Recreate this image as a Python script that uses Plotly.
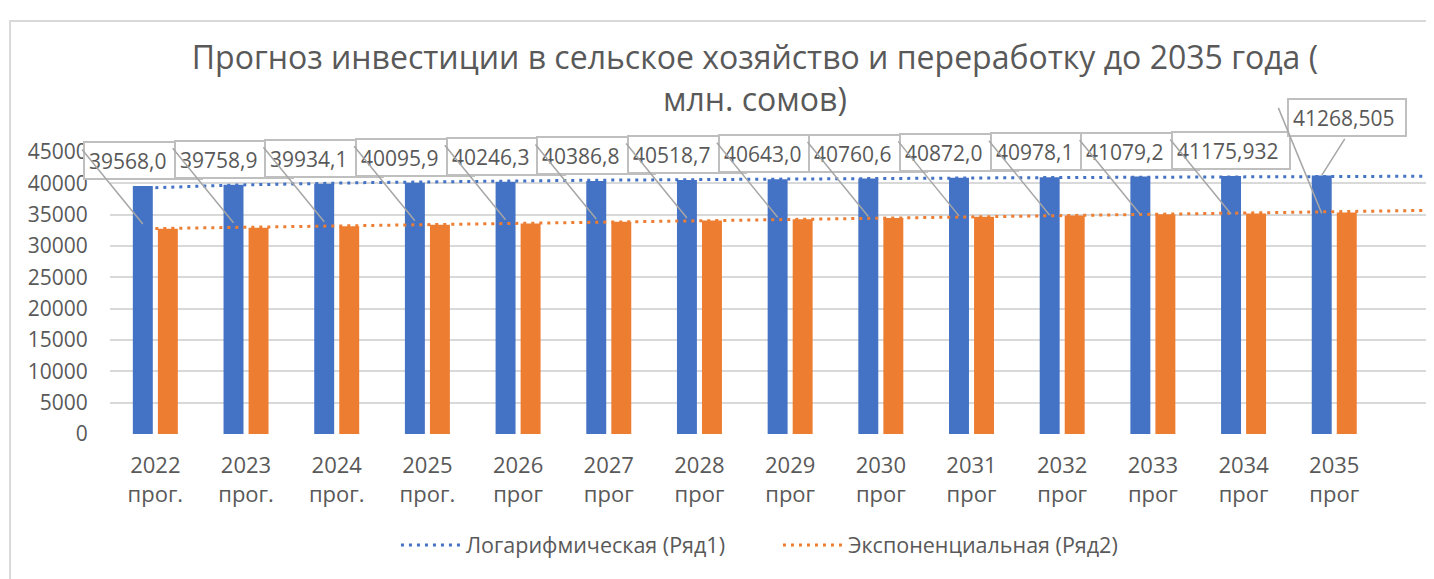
import numpy as np
import plotly.graph_objects as go

# ---------------- data ----------------
years = ["2022", "2023", "2024", "2025", "2026", "2027", "2028",
         "2029", "2030", "2031", "2032", "2033", "2034", "2035"]
suffixes = ["прог.", "прог.", "прог.", "прог.", "прог", "прог", "прог",
            "прог", "прог", "прог", "прог", "прог", "прог", "прог"]
blue_values = [39568.0, 39758.9, 39934.1, 40095.9, 40246.3, 40386.8, 40518.7,
               40643.0, 40760.6, 40872.0, 40978.1, 41079.2, 41175.932, 41268.505]
blue_labels = ["39568,0", "39758,9", "39934,1", "40095,9", "40246,3", "40386,8", "40518,7",
               "40643,0", "40760,6", "40872,0", "40978,1", "41079,2", "41175,932", "41268,505"]
orange_values = [32750, 32900, 33150, 33400, 33600, 33850, 34050,
                 34250, 34450, 34650, 34850, 35050, 35200, 35350]
y_tick_values = [0, 5000, 10000, 15000, 20000, 25000, 30000, 35000, 40000, 45000]
trend_names = ["Логарифмическая (Ряд1)", "Экспоненциальная (Ряд2)"]
title_text = "Прогноз инвестиции в сельское хозяйство и переработку до 2035 года (<br>млн. сомов)"

BLUE = "#4472C4"
ORANGE = "#ED7D31"
GREY_TXT = "#595959"
FONT = "Open Sans"

xs = np.arange(len(years))
ticktext = [f"{y}<br>{s}" for y, s in zip(years, suffixes)]

# trendlines fitted (as the spreadsheet does) from the series, 1 period forward
t_obs = np.arange(1, len(years) + 1)
a_log, b_log = np.polyfit(np.log(t_obs), np.array(blue_values), 1)
k_exp, c_exp = np.polyfit(t_obs, np.log(np.array(orange_values, dtype=float)), 1)
t_line = np.linspace(1, len(years) + 1, 120)
blue_trend = a_log * np.log(t_line) + b_log
orange_trend = np.exp(c_exp + k_exp * t_line)

fig = go.Figure()
fig.add_trace(go.Bar(x=xs, y=blue_values, width=0.22, offset=-0.248,
                     marker=dict(color=BLUE, line=dict(width=0)), showlegend=False,
                     name="Ряд1"))
fig.add_trace(go.Bar(x=xs, y=orange_values, width=0.22, offset=0.028,
                     marker=dict(color=ORANGE, line=dict(width=0)), showlegend=False,
                     name="Ряд2"))
fig.add_trace(go.Scatter(x=t_line - 1, y=blue_trend, mode="lines", name=trend_names[0],
                         line=dict(color=BLUE, width=3, dash="3px,5px")))
fig.add_trace(go.Scatter(x=t_line - 1, y=orange_trend, mode="lines", name=trend_names[1],
                         line=dict(color=ORANGE, width=3, dash="3px,5px")))

annotations = []
bar_center = xs - 0.138
n = len(years)
# label boxes
for i in range(n):
    last = (i == n - 1)
    annotations.append(dict(
        x=bar_center[i], y=blue_values[i], xref="x", yref="y",
        text=blue_labels[i], showarrow=False, xanchor="center", yanchor="middle",
        xshift=25.5 if last else 0, yshift=58 if last else 25.5,
        width=108, height=27, align="left", valign="middle",
        bgcolor="white", bordercolor="#bfbfbf", borderwidth=2, borderpad=4,
        font=dict(family=FONT, size=21, color=GREY_TXT)))
# leader lines
for i in range(n):
    last = (i == n - 1)
    annotations.append(dict(
        x=bar_center[i], y=blue_values[i], xref="x", yref="y", text="",
        showarrow=True, arrowhead=0, arrowwidth=1.5, arrowcolor="#a6a6a6",
        standoff=0, startstandoff=0, yshift=-38,
        ax=-44 if last else -62, ay=-107 if last else -76))
annotations.append(dict(
    x=bar_center[n - 1], y=blue_values[n - 1], xref="x", yref="y", text="",
    showarrow=True, arrowhead=0, arrowwidth=1.5, arrowcolor="#a6a6a6",
    standoff=0, startstandoff=0, ax=24, ay=-38))

fig.update_layout(
    width=1426, height=571,
    margin=dict(l=102, r=0, t=144, b=145, autoexpand=False),
    paper_bgcolor="white", plot_bgcolor="white",
    font=dict(family=FONT, color=GREY_TXT),
    barmode="overlay",
    title=dict(text=title_text, x=0.5238, xanchor="center", y=0.893, yanchor="middle",
               font=dict(family=FONT, size=32, color=GREY_TXT)),
    xaxis=dict(range=[-0.5, 14.1], tickmode="array", tickvals=list(xs), ticktext=ticktext,
               showgrid=False, zeroline=False, showline=False,
               ticks="outside", ticklen=12, tickcolor="rgba(0,0,0,0)",
               tickfont=dict(family=FONT, size=22, color=GREY_TXT)),
    yaxis=dict(range=[0, 45000], tickmode="array", tickvals=y_tick_values,
               ticktext=[str(v) for v in y_tick_values],
               showgrid=True, gridcolor="#d9d9d9", gridwidth=1.5, zeroline=False,
               showline=False, ticks="outside", ticklen=17, tickcolor="rgba(0,0,0,0)",
               tickfont=dict(family=FONT, size=21, color=GREY_TXT)),
    legend=dict(orientation="h", x=0.5045, xanchor="center", y=-0.394, yanchor="middle",
                itemwidth=60, entrywidth=307, entrywidthmode="pixels",
                font=dict(family=FONT, size=21.5, color=GREY_TXT), bgcolor="rgba(0,0,0,0)"),
    annotations=annotations,
    shapes=[dict(type="rect", xref="paper", yref="paper",
                 x0=-0.0755, x1=1.05, y0=-0.56, y1=1.4645,
                 line=dict(color="#d9d9d9", width=2), layer="below")],
)

fig.write_html("out.html")
